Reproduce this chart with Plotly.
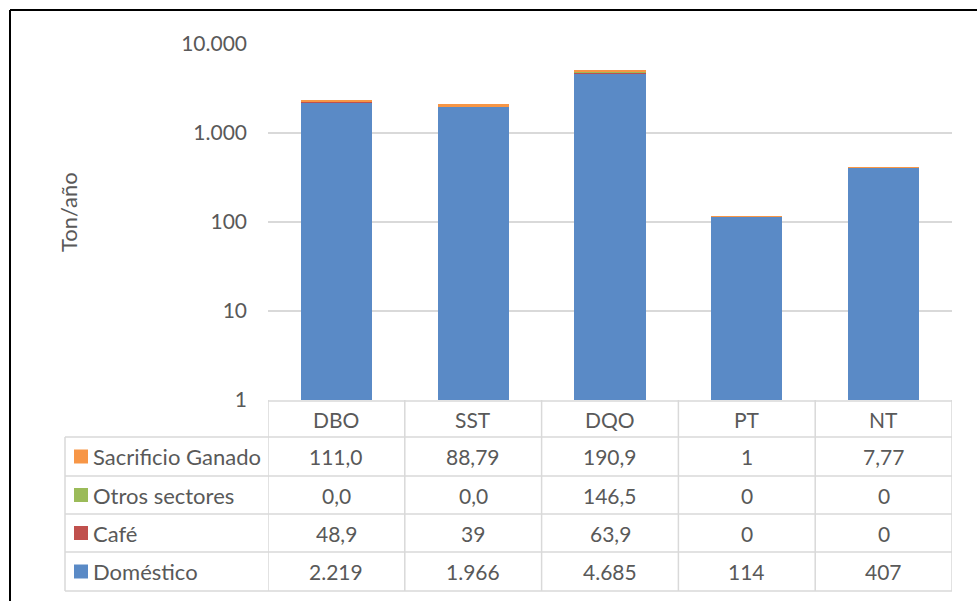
import plotly.graph_objects as go

# Parameters (columns) and contributing sectors
categories = ["DBO", "SST", "DQO", "PT", "NT"]
sectors = ["Doméstico", "Café", "Otros sectores", "Sacrificio Ganado"]

# Loads in Ton/año, written as they appear in the data table (es-CO formatting)
domestico_lbl = ["2.219", "1.966", "4.685", "114", "407"]
cafe_lbl = ["48,9", "39", "63,9", "0", "0"]
otros_lbl = ["0,0", "0,0", "146,5", "0", "0"]
sacrificio_lbl = ["111,0", "88,79", "190,9", "1", "7,77"]

sector_labels = [domestico_lbl, cafe_lbl, otros_lbl, sacrificio_lbl]
sector_colors = ["#5A8AC6", "#C0504D", "#9BBB59", "#F79646"]

# Y axis ticks
tick_vals = [1, 10, 100, 1000, 10000]
tick_text = ["1", "10", "100", "1.000", "10.000"]

W, H = 977, 601
FONT = "Lato"
TXT = "#595959"
GRID = "#D9D9D9"


def to_num(s):
    return float(s.replace(".", "").replace(",", "."))


def px(x):
    return x / W


def py(y):
    return 1 - y / H


fig = go.Figure()
for name, lbls, col in zip(sectors, sector_labels, sector_colors):
    fig.add_trace(go.Bar(
        x=categories, y=[to_num(s) for s in lbls], name=name,
        marker=dict(color=col, line=dict(width=0)),
        showlegend=False,
    ))

# Plot area geometry (pixels)
X0, X1 = 268, 952
Y_TOP, Y_BOT = 44, 400
# Table geometry (pixels)
LEFT_COL = 65
row_edges = [401, 437, 476, 514, 552, 591]

shapes = []
line_style = dict(color=GRID, width=1.5)

# horizontal table lines
shapes.append(dict(type="line", xref="paper", yref="paper",
                   x0=px(X0), x1=px(X1), y0=py(row_edges[0]), y1=py(row_edges[0]),
                   line=line_style))
for ry in row_edges[1:]:
    shapes.append(dict(type="line", xref="paper", yref="paper",
                       x0=px(LEFT_COL), x1=px(X1), y0=py(ry), y1=py(ry),
                       line=line_style))
# vertical table lines: label column edge, then category column edges
shapes.append(dict(type="line", xref="paper", yref="paper",
                   x0=px(LEFT_COL), x1=px(LEFT_COL), y0=py(row_edges[1]), y1=py(row_edges[-1]),
                   line=line_style))
for i in range(len(categories) + 1):
    shapes.append(dict(type="line", xref="x", yref="paper",
                       x0=i - 0.5, x1=i - 0.5, y0=py(Y_BOT), y1=py(row_edges[-1]),
                       line=line_style))

# outer frame (top and left)
shapes.append(dict(type="line", xref="paper", yref="paper",
                   x0=px(10), x1=1, y0=py(10), y1=py(10),
                   line=dict(color="black", width=2)))
shapes.append(dict(type="line", xref="paper", yref="paper",
                   x0=px(10), x1=px(10), y0=py(10), y1=0,
                   line=dict(color="black", width=2)))

annotations = []
tfont = dict(family=FONT, size=21, color=TXT)

# header row with category names
hdr_y = py((row_edges[0] + row_edges[1]) / 2)
for c in categories:
    annotations.append(dict(x=c, xref="x", y=hdr_y, yref="paper", text=c,
                            showarrow=False, font=tfont, xanchor="center", yanchor="middle"))

# data rows: top row is the top of the stack
row_order = list(range(len(sectors)))[::-1]
for r, si in enumerate(row_order):
    cy = (row_edges[r + 1] + row_edges[r + 2]) / 2
    # legend swatch
    shapes.append(dict(type="rect", xref="paper", yref="paper",
                       x0=px(74), x1=px(88), y0=py(cy - 7), y1=py(cy + 7),
                       fillcolor=sector_colors[si], line=dict(width=0)))
    annotations.append(dict(x=px(91), xref="paper", y=py(cy), yref="paper",
                            text=sectors[si], showarrow=False,
                            font=dict(family=FONT, size=22, color=TXT),
                            xanchor="left", yanchor="middle"))
    for c, s in zip(categories, sector_labels[si]):
        annotations.append(dict(x=c, xref="x", y=py(cy), yref="paper", text=s,
                                showarrow=False, font=tfont,
                                xanchor="center", yanchor="middle"))

# y axis title
annotations.append(dict(x=px(68), xref="paper", y=py(212), yref="paper",
                        text="Ton/año", textangle=-90, showarrow=False,
                        font=dict(family=FONT, size=22, color=TXT),
                        xanchor="center", yanchor="middle"))

fig.update_layout(
    width=W, height=H,
    margin=dict(l=0, r=0, t=0, b=0, autoexpand=False),
    paper_bgcolor="white", plot_bgcolor="white",
    barmode="stack", bargap=0.48,
    font=dict(family=FONT, color=TXT),
    shapes=shapes, annotations=annotations,
    xaxis=dict(domain=[px(X0), px(X1)], range=[-0.5, len(categories) - 0.5],
               showticklabels=False, showgrid=False, zeroline=False, showline=False,
               ticks="", automargin=False),
    yaxis=dict(type="log", domain=[py(Y_BOT), py(Y_TOP)], range=[0, 4],
               tickvals=tick_vals, ticktext=tick_text,
               tickfont=dict(family=FONT, size=21, color=TXT),
               showgrid=True, gridcolor=GRID, gridwidth=1.5, automargin=False,
               zeroline=False, showline=False, ticks="", ticklabelstandoff=20),
)

fig.write_html("out.html")
